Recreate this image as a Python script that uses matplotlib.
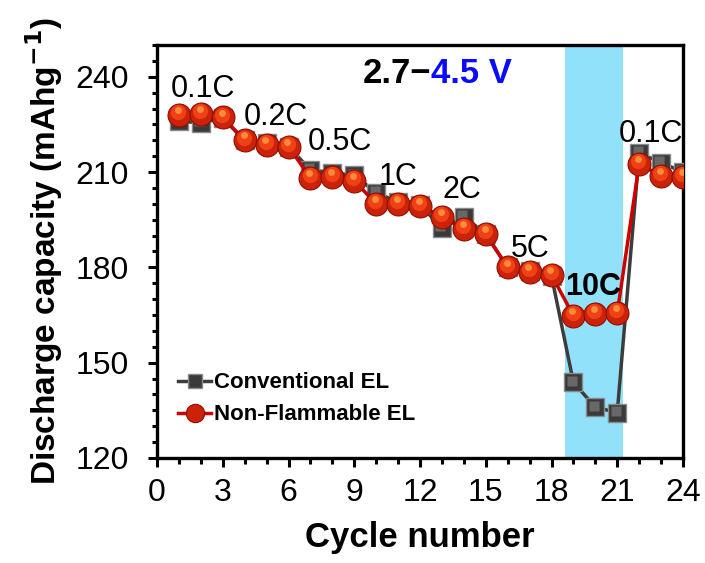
import matplotlib
matplotlib.use("Agg")
import matplotlib.pyplot as plt
from matplotlib.ticker import MultipleLocator
from matplotlib.transforms import ScaledTranslation

plt.rcParams['font.family'] = ['Liberation Sans', 'DejaVu Sans']

cycles = list(range(1, 25))
conventional = [226.0, 225.5, 227.0, 220.0, 219.0, 218.0, 210.7, 209.8, 209.0, 203.5,
                200.6, 199.7, 192.4, 196.0, 190.5, 180.0, 179.0, 177.3, 143.8, 136.0,
                134.3, 216.0, 213.0, 210.0]
nonflammable = [228.0, 228.2, 227.2, 220.0, 218.6, 218.0, 208.2, 208.5, 207.3, 200.0,
                200.0, 199.4, 196.0, 192.0, 190.5, 180.0, 178.6, 177.6, 164.8, 165.3,
                165.6, 212.6, 208.8, 208.6]
rate_labels = ["0.1C", "0.2C", "0.5C", "1C", "2C", "5C", "10C", "0.1C"]
rate_label_pos = [(2.1, 233.7), (5.43, 224.8), (8.35, 217.0), (11.0, 206.0),
                  (13.9, 201.8), (17.05, 183.3), (19.9, 171.3), (22.55, 219.5)]
band_range = (18.61, 21.24)

fig = plt.figure(figsize=(7.05, 5.63), dpi=100)
ax = fig.add_axes([157/705, 1 - 458/563, (683 - 157)/705, (458 - 45)/563])

ax.axvspan(band_range[0], band_range[1], color='#91e1fb', zorder=0, lw=0)

ax.plot(cycles, conventional, color='#3c3c3c', lw=2.5, marker='s', ms=13,
        mfc='#3a3a3a', mec='#8a8a8a', mew=1.0, zorder=3, label='Conventional EL')
off = ScaledTranslation(-1.2/72, 1.2/72, fig.dpi_scale_trans)
ax.plot(cycles, conventional, ls='none', marker='s', ms=6.5, mfc='#686868', mec='none',
        zorder=3.1, transform=ax.transData + off)

ax.plot(cycles, nonflammable, color='#cc0000', lw=2.5, marker='o', ms=16.5,
        mfc='#cc220a', mec='#8e0e00', mew=0.8, zorder=4, label='Non-Flammable EL')
off2 = ScaledTranslation(-0.6/72, 2.0/72, fig.dpi_scale_trans)
ax.plot(cycles, nonflammable, ls='none', marker='o', ms=11, mfc='#ee4216', mec='none',
        zorder=4.1, transform=ax.transData + off2)
off3 = ScaledTranslation(-0.8/72, 3.5/72, fig.dpi_scale_trans)
ax.plot(cycles, nonflammable, ls='none', marker='o', ms=5, mfc='#ff8a3a', mec='none',
        zorder=4.2, transform=ax.transData + off3)

for lab, (x, y) in zip(rate_labels, rate_label_pos):
    bold = lab == "10C"
    ax.text(x, y, lab, fontsize=22, ha='center', va='baseline',
            fontweight='bold' if bold else 'normal', zorder=6)

ax.text(0.521, 0.908, "2.7\u2212", transform=ax.transAxes, fontsize=25,
        fontweight='bold', ha='right', va='baseline', color='black')
ax.text(0.521, 0.908, "4.5 V", transform=ax.transAxes, fontsize=25,
        fontweight='bold', ha='left', va='baseline', color='#0a0aff')

ax.set_xlim(0, 24)
ax.set_ylim(120, 250)
ax.xaxis.set_major_locator(MultipleLocator(3))
ax.xaxis.set_minor_locator(MultipleLocator(1))
ax.yaxis.set_major_locator(MultipleLocator(30))
ax.yaxis.set_minor_locator(MultipleLocator(5))
ax.tick_params(axis='x', which='major', direction='out', length=6.5, width=2.2,
               labelsize=23, pad=8)
ax.tick_params(axis='x', which='minor', direction='out', length=4.3, width=2.2)
ax.tick_params(axis='y', which='major', direction='out', length=6.5, width=2.2,
               labelsize=23, pad=14)
ax.tick_params(axis='y', which='minor', direction='out', length=3.6, width=2.2)
for s in ax.spines.values():
    s.set_linewidth(2.4)

ax.set_xlabel("Cycle number", fontsize=25, fontweight='bold', labelpad=9)
ax.set_ylabel("Discharge capacity (mAhg$^{\\mathbf{-1}}$)", fontsize=24,
              fontweight='bold', labelpad=7)

leg = ax.legend(loc='center left', bbox_to_anchor=(0.04, 0.143), frameon=False,
                prop={'weight': 'bold', 'size': 16}, handlelength=1.5,
                handletextpad=0.1, borderaxespad=0.0, borderpad=0.0,
                labelspacing=0.5, markerscale=0.8)

fig.savefig("out.png", dpi=100)
